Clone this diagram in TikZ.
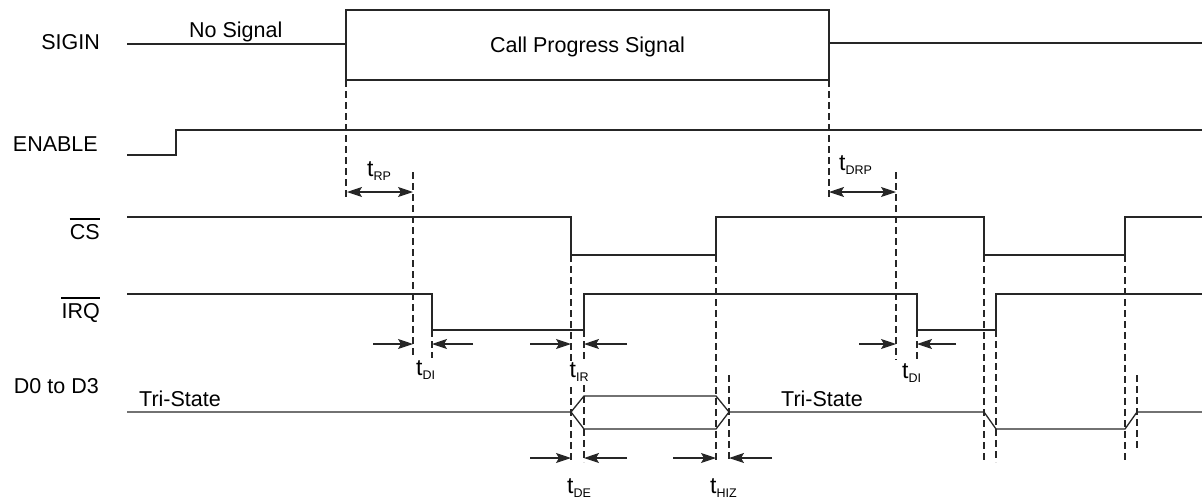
\documentclass[tikz,border=0pt]{standalone}
\usepackage{fontspec}
\setmainfont{Liberation Sans}
\usetikzlibrary{arrows.meta}
\newcommand{\tlab}[1]{{\fontsize{23}{24}\selectfont t}\raisebox{-4.5pt}{\fontsize{12.5}{13}\selectfont #1}}
\begin{document}
\begin{tikzpicture}[x=1pt,y=-1pt,
  sig/.style={line width=1.3pt, line join=miter, black!85},
  dsh/.style={line width=1.1pt, dash pattern=on 7pt off 4pt, black!85},
  tip/.tip={Stealth[length=15pt,width=10pt,inset=3pt]},
  tarr/.style={line width=1.1pt, black!85, -tip},
  dbl/.style={line width=1.1pt, black!85, tip-tip},
  lbl/.style={inner sep=0, font=\fontsize{21.5}{24}\selectfont},
  tl/.style={lbl, anchor=base west}]
\useasboundingbox (0,0) rectangle (1202,499);

% ---- signal names ----
\node[lbl, anchor=base east] (nsigin) at (100,49) {SIGIN};
\node[lbl, anchor=base east] (nenable) at (98,151) {ENABLE};
\node[lbl, anchor=base east] (ncs) at (100,239) {CS};
\node[lbl, anchor=base east] (nirq) at (100,318) {IRQ};
\node[lbl, anchor=base east] (nd) at (99,393) {D0 to D3};
\draw[line width=1.6pt] ([yshift=20pt]ncs.base west) -- ([yshift=20pt]ncs.base east);
\draw[line width=1.6pt] ([yshift=20pt]nirq.base west) -- ([yshift=20pt]nirq.base east);

% ---- text in waveforms ----
\node[lbl, anchor=base west] (nosig) at (189,37) {No Signal};
\node[lbl, anchor=base] (cps) at (587.5,52) {Call Progress Signal};
\node[lbl, anchor=base west] (ts1) at (139,406) {Tri-State};
\node[lbl, anchor=base west] (ts2) at (781,406) {Tri-State};

% ---- waveforms ----
% SIGIN
\draw[sig] (127,44) -- (346,44);
\draw[sig] (346,10) rectangle (829,80);
\draw[sig] (829,43) -- (1202,43);
% ENABLE
\draw[sig] (127,155) -- (176,155) -- (176,130) -- (1202,130);
% CS
\draw[sig] (127,217) -- (571,217) -- (571,255) -- (716,255) -- (716,217)
  -- (984,217) -- (984,255) -- (1125,255) -- (1125,217) -- (1202,217);
% IRQ
\draw[sig] (127,294) -- (432,294) -- (432,330) -- (584,330) -- (584,294)
  -- (917,294) -- (917,330) -- (996,330) -- (996,294) -- (1202,294);
% D0 to D3
\draw[sig] (127,412) -- (571,412) -- (584,396) -- (716,396) -- (729,412)
  -- (984,412) -- (996,429) -- (1125,429) -- (1137,412) -- (1202,412);
\draw[sig] (571,412) -- (584,429) -- (716,429) -- (729,412);

% ---- dashed guides ----
\draw[dsh] (346,80) -- (346,200);
\draw[dsh] (413,172) -- (413,358);
\draw[dsh] (432,330) -- (432,358);
\draw[dsh] (571,255) -- (571,462);
\draw[dsh] (584,330) -- (584,462);
\draw[dsh] (716,255) -- (716,462);
\draw[dsh] (729,375) -- (729,462);
\draw[dsh] (829,80) -- (829,200);
\draw[dsh] (896,172) -- (896,360);
\draw[dsh] (917,330) -- (917,360);
\draw[dsh] (984,255) -- (984,462);
\draw[dsh] (996,330) -- (996,462);
\draw[dsh] (1125,255) -- (1125,460);
\draw[dsh] (1137,375) -- (1137,450);

% ---- timing arrows ----
\draw[dbl] (347,192) -- (413,192);
\draw[dbl] (829,192) -- (896,192);
\draw[tarr] (373,344) -- (413,344);
\draw[tarr] (473,344) -- (432,344);
\draw[tarr] (530,344) -- (571,344);
\draw[tarr] (627,344) -- (584,344);
\draw[tarr] (859,344) -- (896,344);
\draw[tarr] (956,344) -- (917,344);
\draw[tarr] (530,458) -- (571,458);
\draw[tarr] (627,458) -- (584,458);
\draw[tarr] (673,458) -- (716,458);
\draw[tarr] (772,458) -- (729,458);

% ---- timing labels ----
\node[tl] (trp) at (367,176) {\tlab{RP}};
\node[tl] (tdrp) at (839,170) {\tlab{DRP}};
\node[tl] (tdi1) at (416,375) {\tlab{DI}};
\node[tl, fill=white, inner sep=1.5pt] (tir) at (568,377) {\tlab{IR}};
\node[tl] (tdi2) at (902,378) {\tlab{DI}};
\node[tl] (tde) at (567,493) {\tlab{DE}};
\node[tl] (thiz) at (710,493) {\tlab{HIZ}};
\end{tikzpicture}
\end{document}
